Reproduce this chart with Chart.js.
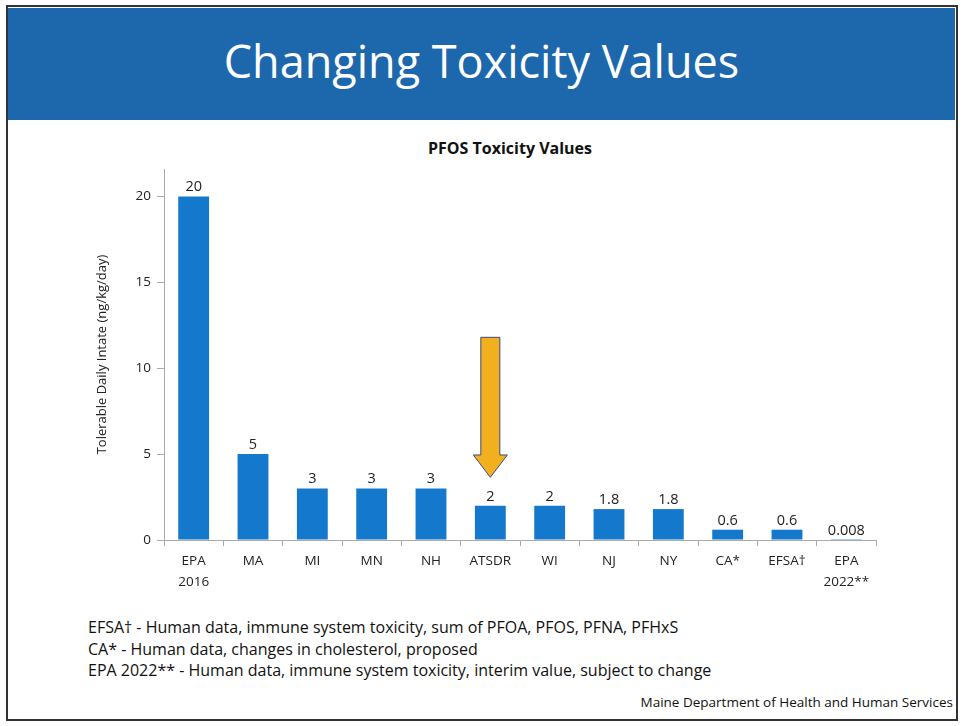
<!DOCTYPE html>
<html>
<head>
<meta charset="utf-8">
<script src="https://cdn.jsdelivr.net/npm/chart.js@4"></script>
<style>
  body { margin: 0; background: #fff; font-family: "Open Sans", sans-serif; }
  #slide { position: relative; width: 965px; height: 726px; overflow: hidden; }
  #frame { position: absolute; left: 6px; top: 5px; width: 948px; height: 712px; border: 2px solid #333; }
  #banner { position: absolute; left: 8px; top: 8px; width: 947px; height: 112px; background: #1d67ad;
    color: #fff; font-size: 45px; text-align: center; line-height: 106px; }
  #chartTitle { position: absolute; left: 310px; width: 400px; top: 137px; text-align: center;
    font-weight: bold; font-size: 16px; color: #111; }
  #wrap { position: absolute; left: 0; top: 130px; width: 965px; height: 470px; }
  .note { position: absolute; left: 88px; font-size: 16px; color: #111; }
  #credit { position: absolute; right: 12px; top: 693px; font-size: 13.5px; color: #111; }
</style>
</head>
<body>
<div id="slide">
  <div id="frame"></div>
  <div id="banner">Changing Toxicity Values</div>
  <div id="chartTitle">PFOS Toxicity Values</div>
  <div id="wrap"><canvas id="toxChart"></canvas></div>
  <div class="note" style="top:616px">EFSA† - Human data, immune system toxicity, sum of PFOA, PFOS, PFNA, PFHxS</div>
  <div class="note" style="top:638px">CA* - Human data, changes in cholesterol, proposed</div>
  <div class="note" style="top:659px">EPA 2022** - Human data, immune system toxicity, interim value, subject to change</div>
  <div id="credit">Maine Department of Health and Human Services</div>
</div>
<script>
const categories = [["EPA", "2016"], "MA", "MI", "MN", "NH", "ATSDR", "WI", "NJ", "NY", "CA*", "EFSA†", ["EPA", "2022**"]]
const values = [20, 5, 3, 3, 3, 2, 2, 1.8, 1.8, 0.6, 0.6, 0.008]
const valueLabels = ["20", "5", "3", "3", "3", "2", "2", "1.8", "1.8", "0.6", "0.6", "0.008"]
const yTicks = [0, 5, 10, 15, 20]
const highlighted = "ATSDR"

// 막대 위 값 표시
const valueLabelPlugin = {
  id: "valueLabels",
  afterDatasetsDraw(chart) {
    const ctx = chart.ctx
    const meta = chart.getDatasetMeta(0)
    ctx.save()
    ctx.font = "14.5px 'Open Sans', sans-serif"
    ctx.fillStyle = "#222"
    ctx.textAlign = "center"
    ctx.textBaseline = "bottom"
    meta.data.forEach((bar, i) => {
      ctx.fillText(valueLabels[i], bar.x, bar.y - 2)
    })
    ctx.restore()
  },
}

// 강조 화살표
const arrowPlugin = {
  id: "arrow",
  afterDatasetsDraw(chart) {
    const x = chart.scales.x.getPixelForValue(categories.indexOf(highlighted))
    const y = chart.scales.y
    const top = y.getPixelForValue(11.8)
    const neck = y.getPixelForValue(4.95)
    const tip = y.getPixelForValue(3.65)
    const ctx = chart.ctx
    ctx.save()
    ctx.beginPath()
    ctx.moveTo(x - 9.5, top)
    ctx.lineTo(x + 9.5, top)
    ctx.lineTo(x + 9.5, neck)
    ctx.lineTo(x + 17, neck)
    ctx.lineTo(x, tip)
    ctx.lineTo(x - 17, neck)
    ctx.lineTo(x - 9.5, neck)
    ctx.closePath()
    ctx.fillStyle = "#f2b01e"
    ctx.fill()
    ctx.strokeStyle = "#3d4a80"
    ctx.lineWidth = 1
    ctx.stroke()
    ctx.restore()
  },
}

new Chart(document.querySelector("#toxChart"), {
  type: "bar",
  data: {
    labels: categories,
    datasets: [
      {
        data: values,
        backgroundColor: "#1479cc",
        barPercentage: 0.52,
        categoryPercentage: 1,
      },
    ],
  },
  options: {
    responsive: true,
    maintainAspectRatio: false,
    animation: false,
    layout: { padding: { left: 82, right: 89, top: 39, bottom: 0 } },
    plugins: { legend: { display: false }, tooltip: { enabled: false } },
    scales: {
      x: {
        afterFit: (s) => { s.height = 60 },
        grid: { drawOnChartArea: false, tickLength: 6, color: "#aaa" },
        border: { color: "#aaa" },
        ticks: { color: "#222", padding: 5, font: { family: "'Open Sans', sans-serif", size: 13.5, lineHeight: 1.55 }, maxRotation: 0, autoSkip: false },
      },
      y: {
        min: 0,
        max: 21.6,
        afterFit: (s) => { s.width = 82 },
        afterBuildTicks: (s) => { s.ticks = yTicks.map((v) => ({ value: v })) },
        grid: { drawOnChartArea: false, tickLength: 7, color: "#aaa" },
        border: { color: "#aaa" },
        ticks: { color: "#222", padding: 6, font: { family: "'Open Sans', sans-serif", size: 13.5 } },
        title: {
          display: true,
          text: "Tolerable Daily Intate (ng/kg/day)",
          color: "#222",
          font: { family: "'Open Sans', sans-serif", size: 13 },
          padding: { top: 12, bottom: 0 },
        },
      },
    },
  },
  plugins: [valueLabelPlugin, arrowPlugin],
})
</script>
</body>
</html>
